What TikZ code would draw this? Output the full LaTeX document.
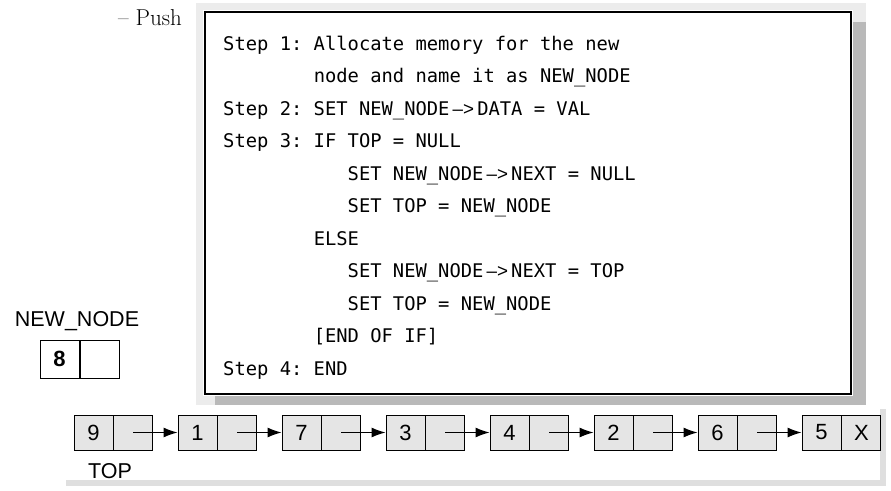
\documentclass[tikz,border=0pt]{standalone}
\usepackage{fontspec}
\setsansfont{Liberation Sans}
\setmonofont{DejaVu Sans Mono}
\begin{document}
\begin{tikzpicture}[x=1pt,y=-1pt,
  code/.style={anchor=base west,inner sep=0pt,font=\ttfamily\fontsize{18.8}{20}\selectfont},
  cell/.style={draw,fill=gray!20,line width=0.9pt,minimum width=39pt,minimum height=35pt,inner sep=0pt,font=\sffamily\fontsize{22}{24}\selectfont},
  arr/.style={-{Latex[length=14pt,width=10pt]},line width=1.1pt}]
\usetikzlibrary{arrows.meta}
\useasboundingbox (0,0) rectangle (891,490);
\node[anchor=base west,inner sep=0pt,font=\fontsize{23}{25}\selectfont] (push) at (118,25) {-- Push};
% code box
\fill[gray!15] (196,3) rectangle (866,410);
\fill[gray!55] (215,22) rectangle (866,408);
\fill[white] (203,10) rectangle (853,396);
\draw[line width=1.6pt] (205,12) rectangle (851,394);
\node[code] (s1) at (223,50) {Step 1: Allocate memory for the new};
\node[code] (s1b) at (223,82) {\phantom{Step 1: }node and name it as NEW\_NODE};
\node[code] (s2) at (223,115) {Step 2: SET NEW\_NODE\,\textsf{–>}\,DATA = VAL};
\node[code] (s3) at (223,147) {Step 3: IF TOP = NULL};
\node[code] (s3a) at (223,180) {\phantom{Step 3: IF }SET NEW\_NODE\,\textsf{–>}\,NEXT = NULL};
\node[code] (s3b) at (223,212) {\phantom{Step 3: IF }SET TOP = NEW\_NODE};
\node[code] (s3c) at (223,245) {\phantom{Step 3: }ELSE};
\node[code] (s3d) at (223,277) {\phantom{Step 3: IF }SET NEW\_NODE\,\textsf{–>}\,NEXT = TOP};
\node[code] (s3e) at (223,310) {\phantom{Step 3: IF }SET TOP = NEW\_NODE};
\node[code] (s3f) at (223,342) {\phantom{Step 3: }[END OF IF]};
\node[code] (s4) at (223,375) {Step 4: END};
% new node
\node[anchor=base,inner sep=0pt,font=\sffamily\fontsize{21.5}{23}\selectfont] (nnl) at (77,326) {NEW\_NODE};
\node[draw,line width=1pt,minimum width=39pt,minimum height=38pt,inner sep=0pt,font=\sffamily\bfseries\fontsize{22}{24}\selectfont] (nd) at (59.5,359) {8};
\node[draw,line width=1pt,minimum width=39pt,minimum height=38pt,inner sep=0pt,anchor=west] (np) at (nd.east) {};
% list panel
\fill[gray!25] (66,409) rectangle (886,486);
\fill[white] (62,405) rectangle (880,480);
\foreach \v [count=\i from 0] in {9,1,7,3,4,2,6,5}{
  \node[cell] (d\i) at ({93.5+104*\i},432.5) {\v};
  \node[cell,anchor=west] (p\i) at (d\i.east) {};
}
\node[font=\sffamily\fontsize{22}{24}\selectfont,inner sep=0pt] (x) at (p7.center) {X};
\foreach \i [evaluate=\i as \j using int(\i+1)] in {0,...,6}{
  \draw[arr] (p\i.center) -- (d\j.west);
}
\node[anchor=base,inner sep=0pt,font=\sffamily\fontsize{21.5}{23}\selectfont] (top) at (110,478) {TOP};
\end{tikzpicture}
\end{document}
